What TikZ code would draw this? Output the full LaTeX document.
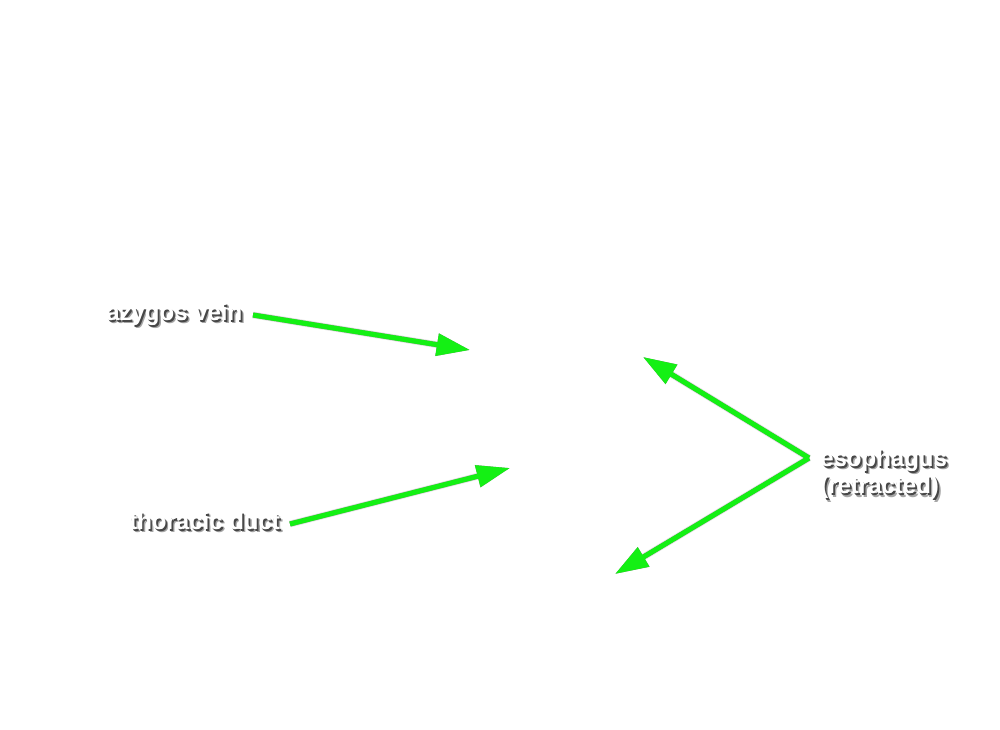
\documentclass[tikz,border=0pt]{standalone}
\usepackage{fontspec}
\setmainfont{Liberation Sans}
\usetikzlibrary{arrows.meta}
\definecolor{arrowgreen}{RGB}{20,240,20}
\newcommand\shtext[1]{\leavevmode
  \rlap{\kern2.3pt\lower2.7pt\hbox{\color{black!35}#1}}%
  \rlap{\kern1.3pt\lower1.7pt\hbox{\color{black!72}#1}}%
  #1}
\begin{document}
\begin{tikzpicture}[x=0.75pt,y=-0.75pt,
  lbl/.style={font=\bfseries\fontsize{18}{15.75}\selectfont, text=white, inner sep=0pt, align=left},
  tip/.style={-{Triangle[length=25pt,width=16pt]}},
  arr/.style={tip, draw=arrowgreen, line width=3.75pt},
  arrshadow/.style={tip, draw=black!75, line width=3.75pt, opacity=0.6},
  arrblur/.style={tip, draw=black!50, line width=5pt, opacity=0.25},
]
\useasboundingbox (0,0) rectangle (1000,729);
\fill[white] (0,0) rectangle (1000,729);

% arrow end points
\coordinate (azyS) at (253,315);
\coordinate (azyT) at (470,350);
\coordinate (thoS) at (290,524);
\coordinate (thoT) at (510,468);
\coordinate (esoS) at (809,458);
\coordinate (esoT1) at (643,357);
\coordinate (esoT2) at (615,574);

% arrow shadows
\begin{scope}[shift={(2.5,3.5)}]
  \draw[arrblur] (azyS) -- (azyT);
  \draw[arrblur] (thoS) -- (thoT);
  \draw[arrblur] (esoS) -- (esoT1);
  \draw[arrblur] (esoS) -- (esoT2);
\end{scope}
\begin{scope}[shift={(1.5,2.5)}]
  \draw[arrshadow] (azyS) -- (azyT);
  \draw[arrshadow] (thoS) -- (thoT);
  \draw[arrshadow] (esoS) -- (esoT1);
  \draw[arrshadow] (esoS) -- (esoT2);
\end{scope}

% arrows
\draw[arr] (azyS) -- (azyT);
\draw[arr] (thoS) -- (thoT);
\draw[arr] (esoS) -- (esoT1);
\draw[arr] (esoS) -- (esoT2);

% labels
\node[lbl, anchor=base west] (azy) at (106,320) {\shtext{azygos vein}};
\node[lbl, anchor=base west] (tho) at (129,529) {\shtext{thoracic duct}};
\node[lbl, anchor=north west] (eso) at (820,448.5) {\shtext{esophagus}\\\shtext{(retracted)}};
\end{tikzpicture}
\end{document}
